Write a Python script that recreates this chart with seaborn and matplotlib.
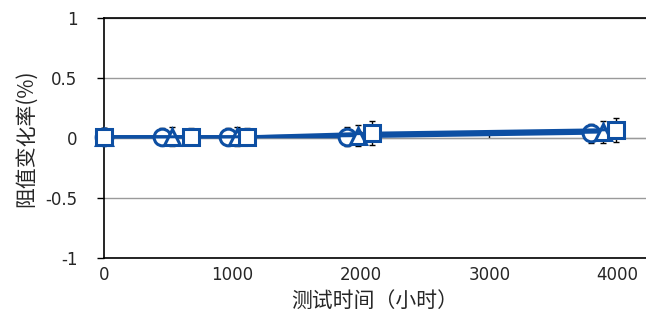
import numpy as np
import pandas as pd
import matplotlib
matplotlib.use("Agg")
import matplotlib.pyplot as plt
import seaborn as sns

# ---- data ----
x_circle = [0, 450, 965, 1890, 3795]
y_circle = [0.01, 0.01, 0.01, 0.01, 0.04]
e_circle = [0.07, 0.07, 0.07, 0.08, 0.08]

x_tri = [0, 530, 1035, 1975, 3885]
y_tri = [0.01, 0.01, 0.01, 0.02, 0.05]
e_tri = [0.07, 0.08, 0.08, 0.09, 0.09]

x_sq = [0, 680, 1115, 2090, 3990]
y_sq = [0.01, 0.01, 0.01, 0.04, 0.07]
e_sq = [0.07, 0.07, 0.07, 0.10, 0.10]

x_ticks = [0, 1000, 2000, 3000, 4000]
y_ticks = [-1, -0.5, 0, 0.5, 1]
y_ticklabels = ["-1", "-0.5", "0", "0.5", "1"]
x_label = "测试时间（小时）"
y_label = "阻值变化率(%)"

series = {"circle": (x_circle, y_circle, e_circle, "o"),
          "tri": (x_tri, y_tri, e_tri, "^"),
          "sq": (x_sq, y_sq, e_sq, "s")}

rows = []
for name, (xs, ys, es, m) in series.items():
    for xv, yv in zip(xs, ys):
        rows.append({"t": xv, "v": yv, "s": name})
df = pd.DataFrame(rows)

sns.set_style("white")
plt.rcParams["font.family"] = ["DejaVu Sans", "Noto Sans CJK SC"]

BLUE = "#0D4FA3"
fig = plt.figure(figsize=(6.46, 3.16), dpi=100)
ax = fig.add_axes([104 / 646, 1 - 258 / 316, 1 - 104 / 646, 240 / 316])

# error bars (below markers)
for name, (xs, ys, es, m) in series.items():
    ax.errorbar(xs, ys, yerr=es, fmt="none", ecolor="black", elinewidth=1,
                capsize=2.5, capthick=1, zorder=3, clip_on=False)

sns.lineplot(data=df, x="t", y="v", hue="s", style="s",
             palette={"circle": BLUE, "tri": BLUE, "sq": BLUE},
             markers={"circle": "o", "tri": "^", "sq": "s"}, dashes=False,
             linewidth=2.2, markersize=12, markerfacecolor="white",
             markeredgecolor=BLUE, markeredgewidth=2.2,
             legend=False, ax=ax, zorder=4, clip_on=False, sort=False)
for ln in ax.lines:
    ln.set_clip_on(False)

ax.set_xlim(0, 4220)
ax.set_ylim(-1, 1)
ax.set_yticks(y_ticks)
ax.set_yticklabels(y_ticklabels)
ax.set_xticks(x_ticks)
ax.tick_params(axis="y", direction="out", length=5, width=1, color="black",
               labelsize=12, pad=14, left=True)
ax.tick_params(axis="x", length=0, labelsize=12, pad=6)

ax.yaxis.grid(True, color="#9a9a9a", linewidth=1)
ax.xaxis.grid(False)
ax.set_axisbelow(True)

for s in ["left", "top", "bottom"]:
    ax.spines[s].set_visible(True)
    ax.spines[s].set_color("black")
    ax.spines[s].set_linewidth(1.2)
ax.spines["right"].set_visible(False)

# zero axis line with tick marks
sec = ax.secondary_xaxis(0.5)
sec.set_xticks(x_ticks)
sec.set_xticklabels([])
sec.tick_params(direction="out", length=5, width=1, color="black")
sec.spines["bottom"].set_color("black")
sec.spines["bottom"].set_linewidth(1.2)

ax.set_xlabel(x_label, fontsize=15, family=["Noto Sans CJK SC"], labelpad=4)
ax.set_ylabel(y_label, fontsize=15, family=["Noto Sans CJK SC", "DejaVu Sans"], labelpad=6)

fig.savefig("out.png", dpi=100)
